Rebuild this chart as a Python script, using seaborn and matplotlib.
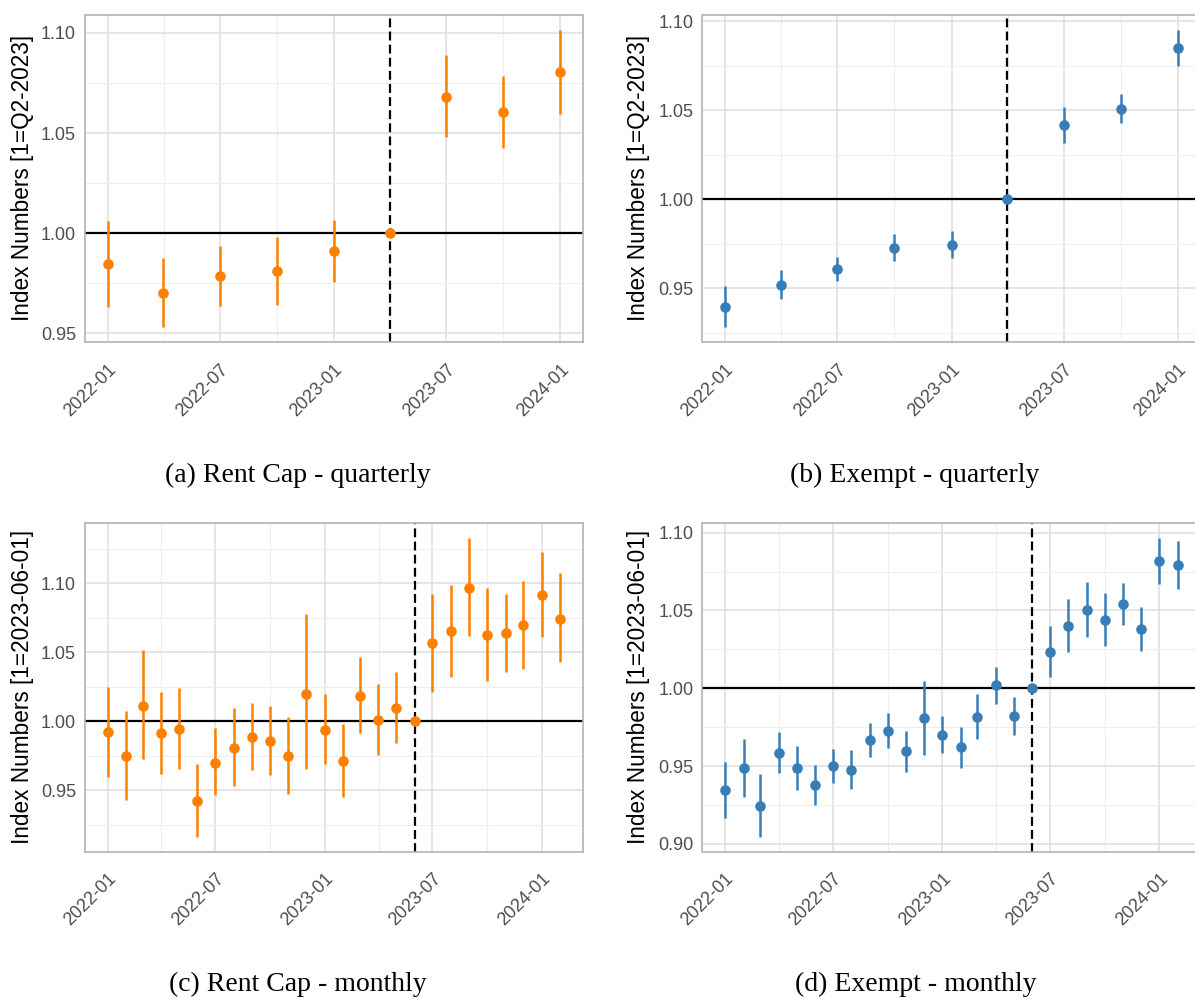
import numpy as np
import pandas as pd
import matplotlib
matplotlib.use("Agg")
import matplotlib.pyplot as plt
import matplotlib.dates as mdates
from matplotlib.ticker import MultipleLocator, FormatStrFormatter
import seaborn as sns

# ---------------- data ----------------
q_dates = ["2022-01-01", "2022-04-01", "2022-07-01", "2022-10-01", "2023-01-01",
           "2023-04-01", "2023-07-01", "2023-10-01", "2024-01-01"]
rc_q_est = [0.9844, 0.9701, 0.9784, 0.9808, 0.9910, 1.0000, 1.0682, 1.0604, 1.0803]
rc_q_lo  = [0.9632, 0.9530, 0.9637, 0.9643, 0.9758, 1.0000, 1.0481, 1.0426, 1.0594]
rc_q_hi  = [1.0060, 0.9876, 0.9935, 0.9978, 1.0063, 1.0000, 1.0888, 1.0785, 1.1017]
ex_q_est = [0.9396, 0.9521, 0.9609, 0.9726, 0.9745, 1.0000, 1.0416, 1.0510, 1.0852]
ex_q_lo  = [0.9283, 0.9443, 0.9543, 0.9652, 0.9670, 1.0000, 1.0317, 1.0427, 1.0751]
ex_q_hi  = [0.9512, 0.9601, 0.9674, 0.9804, 0.9820, 1.0000, 1.0516, 1.0594, 1.0953]

m_dates = ["2022-01-01", "2022-02-01", "2022-03-01", "2022-04-01", "2022-05-01", "2022-06-01",
           "2022-07-01", "2022-08-01", "2022-09-01", "2022-10-01", "2022-11-01", "2022-12-01",
           "2023-01-01", "2023-02-01", "2023-03-01", "2023-04-01", "2023-05-01", "2023-06-01",
           "2023-07-01", "2023-08-01", "2023-09-01", "2023-10-01", "2023-11-01", "2023-12-01",
           "2024-01-01", "2024-02-01"]
rc_m_est = [0.9920, 0.9746, 1.0111, 0.9913, 0.9942, 0.9424, 0.9700, 0.9809, 0.9889, 0.9860,
            0.9751, 1.0201, 0.9940, 0.9715, 1.0184, 1.0012, 1.0097, 1.0000, 1.0566, 1.0653,
            1.0968, 1.0627, 1.0639, 1.0697, 1.0914, 1.0745]
rc_m_lo  = [0.9598, 0.9432, 0.9727, 0.9620, 0.9652, 0.9163, 0.9463, 0.9528, 0.9649, 0.9611,
            0.9473, 0.9652, 0.9688, 0.9453, 0.9913, 0.9758, 0.9840, 1.0000, 1.0215, 1.0324,
            1.0617, 1.0293, 1.0360, 1.0382, 1.0612, 1.0431]
rc_m_hi  = [1.0249, 1.0073, 1.0515, 1.0215, 1.0244, 0.9690, 0.9949, 1.0097, 1.0133, 1.0111,
            1.0034, 1.0779, 1.0198, 0.9981, 1.0464, 1.0269, 1.0356, 1.0000, 1.0926, 1.0992,
            1.1328, 1.0968, 1.0924, 1.1021, 1.1229, 1.1072]
ex_m_est = [0.9347, 0.9488, 0.9246, 0.9585, 0.9488, 0.9377, 0.9499, 0.9478, 0.9670, 0.9726,
            0.9595, 0.9807, 0.9700, 0.9621, 0.9818, 1.0019, 0.9822, 1.0000, 1.0236, 1.0400,
            1.0503, 1.0439, 1.0542, 1.0381, 1.0816, 1.0794]
ex_m_lo  = [0.9169, 0.9304, 0.9047, 0.9454, 0.9345, 0.9248, 0.9390, 0.9353, 0.9561, 0.9615,
            0.9465, 0.9572, 0.9585, 0.9486, 0.9672, 0.9902, 0.9702, 1.0000, 1.0071, 1.0231,
            1.0328, 1.0272, 1.0407, 1.0240, 1.0668, 1.0640]
ex_m_hi  = [0.9527, 0.9675, 0.9448, 0.9719, 0.9632, 0.9510, 0.9610, 0.9602, 0.9779, 0.9842,
            0.9726, 1.0047, 0.9820, 0.9754, 0.9964, 1.0135, 0.9942, 1.0000, 1.0403, 1.0574,
            1.0683, 1.0610, 1.0679, 1.0522, 1.0964, 1.0946]

x_major = ["2022-01-01", "2022-07-01", "2023-01-01", "2023-07-01", "2024-01-01"]
ref_quarter = "2023-04-01"
ref_month = "2023-06-01"

ylabel_q = "Index Numbers [1=Q2-2023]"
ylabel_m = "Index Numbers [1=2023-06-01]"
captions = ["(a) Rent Cap - quarterly", "(b) Exempt - quarterly",
            "(c) Rent Cap - monthly", "(d) Exempt - monthly"]

ORANGE = "#FF7F00"
BLUE = "#377EB8"

# ---------------- style ----------------
sns.set_theme(style="whitegrid")
plt.rcParams['font.family'] = ['Liberation Sans', 'DejaVu Sans']

fig = plt.figure(figsize=(11.95, 9.99), dpi=100)

W = 498 / 1195
pos = {
    "a": [85 / 1195, 1 - 342 / 999, W, (342 - 14.7) / 999],
    "b": [702.5 / 1195, 1 - 342 / 999, W, (342 - 14.7) / 999],
    "c": [85 / 1195, 1 - 851.5 / 999, W, (851.5 - 523.3) / 999],
    "d": [702.5 / 1195, 1 - 851.5 / 999, W, (851.5 - 523.3) / 999],
}
label_x = {"a": 22, "b": 639, "c": 22, "d": 639}


def panel(key, dates, est, lo, hi, color, ref, ylabel):
    ax = fig.add_axes(pos[key])
    d = pd.to_datetime(pd.Series(dates))
    df = pd.DataFrame({"date": d, "est": est, "lo": lo, "hi": hi})
    dn = mdates.date2num(d)

    # grid
    xmaj = mdates.date2num(pd.to_datetime(pd.Series(x_major)))
    xmin = (xmaj[:-1] + xmaj[1:]) / 2.0
    xmin = np.append(xmin, xmaj[-1] + (xmaj[-1] - xmaj[-2]) / 2.0)
    ax.set_xticks(xmaj)
    ax.set_xticks(xmin, minor=True)
    ax.set_xticklabels([pd.Timestamp(s).strftime("%Y-%m") for s in x_major])
    ax.yaxis.set_major_locator(MultipleLocator(0.05))
    ax.yaxis.set_minor_locator(MultipleLocator(0.025))
    ax.yaxis.set_major_formatter(FormatStrFormatter("%.2f"))
    ax.grid(True, which="major", color="#DEDEDE", linewidth=1.1)
    ax.grid(True, which="minor", color="#EEEEEE", linewidth=0.8)
    ax.set_axisbelow(True)

    # reference lines
    ax.axhline(1.0, color="black", linewidth=1.6, zorder=2)
    ax.axvline(mdates.date2num(pd.Timestamp(ref)), color="black", linewidth=1.6,
               linestyle=(0, (4.0, 1.9)), zorder=2)

    # intervals + points
    ax.vlines(df["date"], df["lo"], df["hi"], color=color, linewidth=1.8, zorder=3)
    sns.scatterplot(data=df, x="date", y="est", ax=ax, color=color, s=58,
                    linewidth=0, zorder=4, legend=False)

    # limits with 5% expansion like ggplot
    x0, x1 = dn.min(), dn.max()
    sx = (x1 - x0) * 0.05
    ax.set_xlim(x0 - sx, x1 + sx)
    y0, y1 = min(lo), max(hi)
    sy = (y1 - y0) * 0.05
    ax.set_ylim(y0 - sy, y1 + sy)

    # axis style
    for sp in ax.spines.values():
        sp.set_color("#B3B3B3")
        sp.set_linewidth(1.2)
        sp.set_visible(True)
    ax.tick_params(axis="both", which="major", length=4.5, width=1.0, color="#B3B3B3",
                   labelcolor="#4D4D4D", labelsize=13, pad=2)
    ax.tick_params(axis="x", which="major", pad=9)
    ax.tick_params(axis="both", which="minor", length=0)
    for lab in ax.get_xticklabels():
        lab.set_rotation(45)
        lab.set_ha("right")
        lab.set_va("top")
        lab.set_rotation_mode("anchor")
    ax.set_xlabel("")
    ax.set_ylabel(ylabel, fontsize=16.3, color="black", va="center")
    ax.yaxis.set_label_coords((label_x[key] - pos[key][0] * 1195) / 498, 0.5)
    return ax


panel("a", q_dates, rc_q_est, rc_q_lo, rc_q_hi, ORANGE, ref_quarter, ylabel_q)
panel("b", q_dates, ex_q_est, ex_q_lo, ex_q_hi, BLUE, ref_quarter, ylabel_q)
panel("c", m_dates, rc_m_est, rc_m_lo, rc_m_hi, ORANGE, ref_month, ylabel_m)
panel("d", m_dates, ex_m_est, ex_m_lo, ex_m_hi, BLUE, ref_month, ylabel_m)

cap_pos = [(298, 475), (915, 475), (298, 984), (916, 984)]
for (cx, cy), txt in zip(cap_pos, captions):
    fig.text(cx / 1195, 1 - cy / 999, txt, ha="center", va="center",
             fontsize=20, family=["Liberation Serif", "DejaVu Serif"], color="black")

fig.savefig("out.png", dpi=100)
